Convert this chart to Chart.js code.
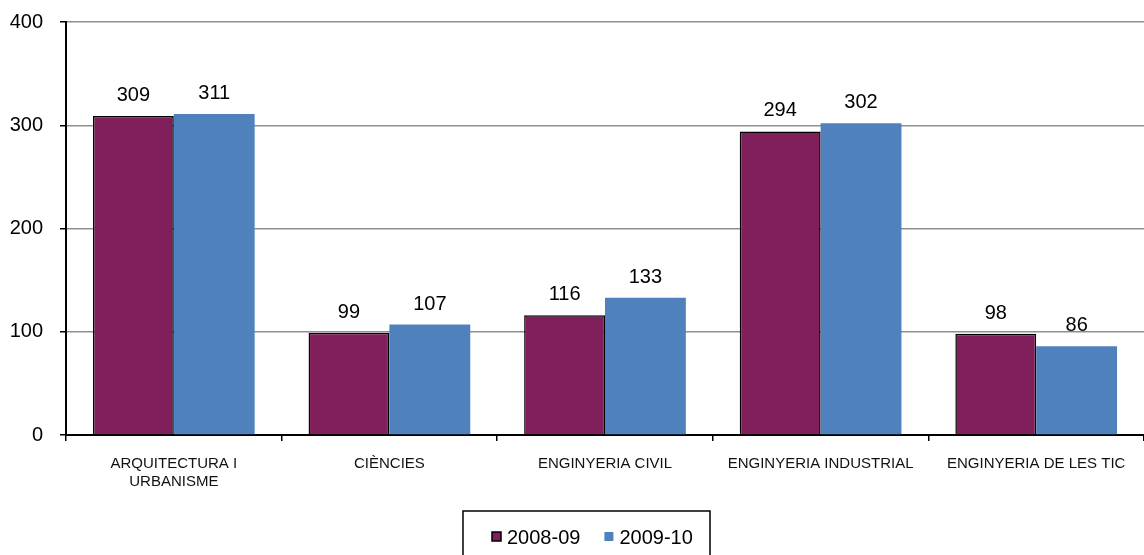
<!DOCTYPE html>
<html>
<head>
<meta charset="utf-8">
<script src="https://cdn.jsdelivr.net/npm/chart.js@4"></script>
<style>
  html, body { margin: 0; padding: 0; background: #fff; }
  #wrap { width: 1144px; height: 555px; position: relative; }
</style>
</head>
<body>
<div id="wrap"><canvas id="barChart"></canvas></div>
<script>
const categories = [['ARQUITECTURA I', 'URBANISME'], 'CIÈNCIES', 'ENGINYERIA CIVIL', 'ENGINYERIA INDUSTRIAL', 'ENGINYERIA DE LES TIC'];
const seriesNames = ['2008-09', '2009-10'];
const values0809 = [309, 99, 116, 294, 98];
const values0910 = [311, 107, 133, 302, 86];
const yTicks = [0, 100, 200, 300, 400];

const FONT = 'Arial, "Liberation Sans", sans-serif';

// numbers above each bar
const valueLabels = {
    id: 'valueLabels',
    afterDatasetsDraw(chart) {
        const ctx = chart.ctx;
        ctx.save();
        ctx.font = '20px ' + FONT;
        ctx.fillStyle = '#000';
        ctx.textAlign = 'center';
        ctx.textBaseline = 'alphabetic';
        chart.data.datasets.forEach((ds, i) => {
            chart.getDatasetMeta(i).data.forEach((bar, j) => {
                ctx.fillText(ds.data[j], bar.x, bar.y - 15);
            });
        });
        ctx.restore();
    }
};

// boxed legend like the original
const boxLegend = {
    id: 'boxLegend',
    afterDraw(chart) {
        const ctx = chart.ctx;
        ctx.save();
        ctx.font = '20px ' + FONT;
        ctx.textBaseline = 'middle';
        var x = 463, top = 511, cy = 537;
        var startX = x + 29;
        chart.data.datasets.forEach((ds, i) => {
            ctx.fillStyle = ds.backgroundColor;
            ctx.fillRect(startX, cy - 5, 9, 9);
            if (ds.borderWidth) {
                ctx.lineWidth = 1.5;
                ctx.strokeStyle = '#000';
                ctx.strokeRect(startX, cy - 5, 9, 9);
            }
            ctx.fillStyle = '#000';
            ctx.fillText(ds.label, startX + 15, cy + 1);
            startX += 15 + ctx.measureText(ds.label).width + 24;
        });
        ctx.strokeStyle = '#000';
        ctx.lineWidth = 1.5;
        ctx.strokeRect(x, top, 247, 60);
        ctx.restore();
    }
};

new Chart(document.getElementById('barChart'), {
    type: 'bar',
    data: {
        labels: categories,
        datasets: [{
            label: seriesNames[0],
            data: values0809,
            backgroundColor: '#801F5C',
            borderColor: '#000',
            borderWidth: 1.5,
            categoryPercentage: 0.75,
            barPercentage: 1
        }, {
            label: seriesNames[1],
            data: values0910,
            backgroundColor: '#4F81BD',
            borderWidth: 0,
            categoryPercentage: 0.75,
            barPercentage: 1
        }]
    },
    options: {
        responsive: true,
        maintainAspectRatio: false,
        animation: false,
        layout: { padding: { top: 22, right: 0, left: 0, bottom: 0 } },
        scales: {
            x: {
                grid: { offset: true, drawOnChartArea: false, tickLength: 6, color: '#000', lineWidth: 1.5 },
                border: { color: '#000', width: 2 },
                ticks: { font: { family: FONT, size: 15 }, color: '#111', padding: 14, maxRotation: 0 },
                afterFit(scale) { scale.height = 120; scale.paddingLeft = 0; scale.paddingRight = 0; }
            },
            y: {
                min: 0,
                max: 400,
                afterBuildTicks(scale) { scale.ticks = yTicks.map(v => ({ value: v })); },
                grid: { color: '#8f8f8f', lineWidth: 1.5, tickLength: 6, tickColor: '#000' },
                border: { color: '#000', width: 2 },
                ticks: { font: { family: FONT, size: 20 }, color: '#000', padding: 17 },
                afterFit(scale) { scale.width = 66; scale.paddingTop = 0; scale.paddingBottom = 0; }
            }
        },
        plugins: {
            legend: { display: false },
            tooltip: { enabled: false }
        }
    },
    plugins: [valueLabels, boxLegend]
});
</script>
</body>
</html>
